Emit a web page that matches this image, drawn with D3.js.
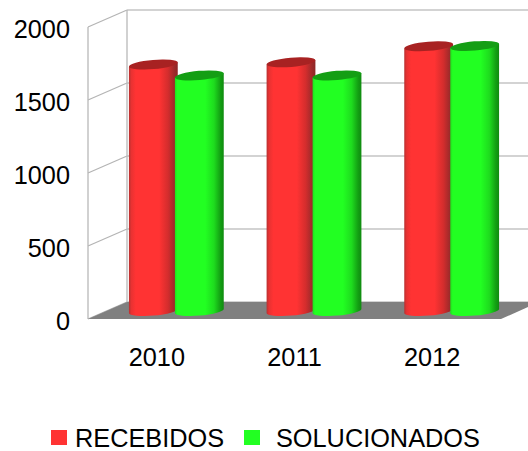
<!DOCTYPE html>
<html><head><meta charset="utf-8">
<script src="https://cdn.jsdelivr.net/npm/d3@7"></script>
<style>html,body{margin:0;padding:0;background:#fff}svg{display:block}text{font-family:"Liberation Sans",Arial,sans-serif;fill:#000}</style>
</head><body><div id="c"></div>
<script>
const categories = ["2010","2011","2012"];
const seriesNames = ["RECEBIDOS","SOLUCIONADOS"];
const recebidos = [1685,1700,1810];
const solucionados = [1610,1610,1812];
const yTicks = [0,500,1000,1500,2000];

const W=528,H=451, fontSize=25.3;
const svg=d3.select("#c").append("svg").attr("width",W).attr("height",H);
const defs=svg.append("defs");
const dx=39, dy=-17;               // depth offset of the back wall
const x0=88, x1=501, yBase=319, yTop=27;
const x=d3.scaleBand().domain(categories).range([x0,x1]);
const sub=d3.scaleBand().domain(seriesNames).range([0,92]);
const y=d3.scaleLinear().domain([0,2000]).range([yBase,yTop]);

const palette={
 RECEBIDOS:{id:"gr",stops:[[0,"#b83030"],[.05,"#e83232"],[.14,"#ff3333"],[.62,"#ff3333"],[.8,"#d42d2d"],[.93,"#9e2a2a"],[1,"#8e2626"]],top:"#a82222",sw:"#ff3333"},
 SOLUCIONADOS:{id:"gg",stops:[[0,"#1ee01e"],[.05,"#22ff22"],[.62,"#22ff22"],[.8,"#1edc1e"],[.93,"#13a013"],[1,"#0f8a0f"]],top:"#149e14",sw:"#22ff22"}
};
Object.values(palette).forEach(p=>{
  const g=defs.append("linearGradient").attr("id",p.id);
  p.stops.forEach(s=>g.append("stop").attr("offset",s[0]).attr("stop-color",s[1]));
});

// walls and grid
const grid=svg.append("g").attr("fill","none");
yTicks.forEach(t=>{
  grid.append("line").attr("x1",x0+dx).attr("x2",W).attr("y1",y(t)+dy).attr("y2",y(t)+dy)
    .attr("stroke","#c4c4c4").attr("stroke-width",1.6);
  grid.append("line").attr("x1",x0).attr("x2",x0+dx).attr("y1",y(t)).attr("y2",y(t)+dy)
    .attr("stroke","#b4b4b4").attr("stroke-width",1.2);
});
[x0,x0+dx].forEach((xx,i)=>grid.append("line").attr("x1",xx).attr("x2",xx)
  .attr("y1",y(2000)+(i?dy:0)).attr("y2",y(0)+(i?dy:0)).attr("stroke","#b8b8b8").attr("stroke-width",1.3));

// floor
svg.append("path").attr("fill","#808080")
  .attr("d",d3.line()([[x0,yBase],[x0+dx,yBase+dy],[W,yBase+dy],[W,yBase-12],[x1,yBase]]));

// cylinders
const rx=24.5, ry=4.6, tilt=-5, tx=rx*Math.cos(tilt*Math.PI/180), ty=rx*Math.sin(tilt*Math.PI/180);
const barRows=categories.flatMap((c,i)=>[
  {c,s:seriesNames[0],v:recebidos[i]},{c,s:seriesNames[1],v:solucionados[i]}]);
svg.append("g").selectAll("g").data(barRows).join("g").each(function(d){
  const g=d3.select(this), p=palette[d.s];
  const gx=x(d.c)+x.bandwidth()/2+dx/2-46;
  const cx=gx+sub(d.s)+sub.bandwidth()/2;
  const yb=y(0)+dy/2+0.5, yt=y(d.v)+dy/2;
  const xl=cx-tx, xr=cx+tx;
  g.append("path").attr("fill",`url(#${p.id})`)
   .attr("d",`M${xl},${yt-ty}L${xl},${yb-ty}A${rx},${ry} ${tilt} 0 0 ${xr},${yb+ty}L${xr},${yt+ty}Z`);
  g.append("ellipse").attr("rx",rx).attr("ry",ry).attr("fill",p.top)
   .attr("transform",`translate(${cx},${yt}) rotate(${tilt})`);
});

// axes
const yAxis=d3.axisLeft(y).tickValues(yTicks).tickFormat(d3.format("d")).tickSize(0).tickPadding(18);
const ya=svg.append("g").attr("transform",`translate(${x0},2)`).call(yAxis);
const xAxis=d3.axisBottom(x).tickSize(0).tickPadding(18);
const xa=svg.append("g").attr("transform",`translate(0,${yBase+11})`).call(xAxis);
[ya,xa].forEach(a=>{a.select(".domain").remove();
  a.selectAll("text").attr("font-size",fontSize).attr("font-family",'"Liberation Sans",Arial,sans-serif').attr("fill","#000");});

// legend
const legendX=[51,244], legendTextX=[75,276];
const lg=svg.append("g").selectAll("g").data(seriesNames).join("g");
lg.append("rect").attr("x",(d,i)=>legendX[i]).attr("y",430).attr("width",16).attr("height",15)
  .attr("fill",d=>palette[d].sw);
lg.append("text").attr("x",(d,i)=>legendTextX[i]).attr("y",447).attr("font-size",fontSize).text(d=>d);
</script></body></html>
